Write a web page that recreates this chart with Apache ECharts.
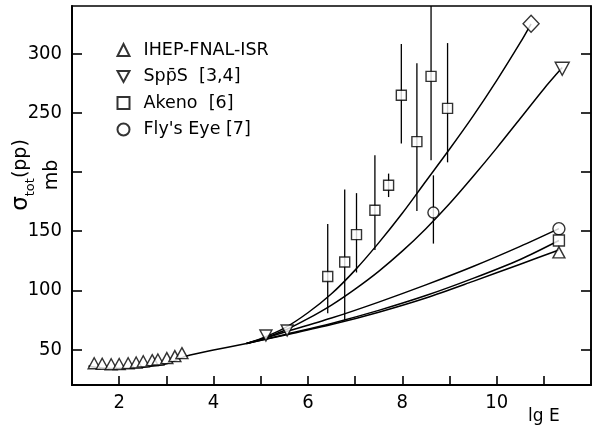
<!DOCTYPE html>
<html>
<head>
<meta charset="utf-8">
<script src="https://cdn.jsdelivr.net/npm/echarts@6/dist/echarts.min.js"></script>
<style>
  html, body { margin: 0; padding: 0; background: #fff; }
  #chart { width: 592px; height: 425px; }
</style>
</head>
<body>
<div id="chart"></div>
<script>
// Total pp cross section (mb) against lg E

// IHEP-FNAL-ISR accelerator points
const isrLgE   = [1.47, 1.64, 1.83, 2.0, 2.19, 2.36, 2.51, 2.70, 2.82, 3.01, 3.18, 3.33];
const isrSigma = [38.4, 37.9, 37.5, 37.7, 38.4, 39.0, 40.0, 41.0, 41.5, 42.7, 44.4, 46.9];

// SppS collider points
const sppsLgE   = [5.11, 5.56];
const sppsSigma = [61.8, 66.0];

// Akeno cosmic-ray points with error bars
const akenoLgE   = [6.42, 6.78, 7.03, 7.42, 7.71, 7.98, 8.31, 8.61, 8.96];
const akenoSigma = [111.6, 123.9, 147.0, 167.5, 188.6, 264.6, 225.5, 280.6, 253.6];
const akenoLo    = [80.5, 74.5, 115.0, 134.0, 178.7, 224.0, 167.0, 209.7, 208.0];
const akenoHi    = [156.0, 185.0, 182.0, 214.0, 198.5, 308.0, 291.6, 345.0, 308.7];

// Fly's Eye point with error bar
const flyLgE   = [8.66];
const flySigma = [165.6];
const flyLo    = [139.4];
const flyHi    = [197.0];

// Model curves: shared low-energy part, then five branches
const curveLow = [[1.35, 36], [1.6, 34.5], [1.85, 34], [2.2, 34.3], [2.6, 35.5], [3.0, 38], [3.43, 44.5], [4.0, 49.5], [4.7, 55]];
const curveDiamond = [[4.7, 55], [5.0, 59], [5.5, 68], [6.0, 81], [6.5, 97], [7.0, 117], [7.5, 140], [8.0, 165], [8.5, 192], [9.0, 219], [9.5, 247], [10.0, 277], [10.5, 309], [10.73, 325]];
const curveInvTri  = [[4.7, 55], [5.0, 58.5], [5.5, 66], [6.0, 76], [6.5, 87.5], [7.0, 101], [7.5, 116], [8.0, 133], [8.5, 152], [9.0, 173], [9.5, 196], [10.0, 220], [10.5, 245], [11.0, 270], [11.39, 288]];
const curveCircle  = [[4.7, 55], [5.5, 64.5], [6.5, 76.5], [7.5, 90], [8.5, 104.5], [9.5, 120], [10.5, 137], [11.32, 152]];
const curveSquare  = [[4.7, 55], [5.5, 62.5], [6.5, 72], [7.5, 83], [8.5, 95.5], [9.5, 110], [10.5, 126], [11.32, 142]];
const curveTri     = [[4.7, 55], [5.5, 62], [6.5, 71], [7.5, 81.5], [8.5, 93.5], [9.5, 107.5], [10.5, 122], [11.32, 134]];

// End-of-curve markers
const endDiamond = [10.73, 325];
const endInvTri  = [11.39, 287];
const endCircle  = [11.32, 152];
const endSquare  = [11.32, 142];
const endTri     = [11.32, 132];

// Axis ticks and labels
const xTicks  = [2, 3, 4, 5, 6, 7, 8, 9, 10, 11];
const xLabels = [2, 4, 6, 8, 10];
const yTicks  = [50, 100, 150, 200, 250, 300];
const yLabels = [50, 100, 150, 250, 300];

const names = ['IHEP-FNAL-ISR', 'Spp\u0304S  [3,4]', 'Akeno  [6]', "Fly's Eye [7]"];

const INK = '#000';
const tickFont = '"Liberation Sans Narrow", "DejaVu Sans Condensed", "Liberation Sans", sans-serif';
const textFont = '"DejaVu Sans", "Liberation Sans", sans-serif';
const invTriPath = 'path://M0,0 L12,0 L6,11 Z';

const hollow = { color: '#fff', borderColor: INK, borderWidth: 1.4 };

function curve(data) {
  return {
    type: 'line', data: data, smooth: 0.3, showSymbol: false, symbol: 'none',
    lineStyle: { color: INK, width: 1.5 }, silent: true, z: 2
  };
}

function errorBars(xs, lo, hi) {
  return {
    type: 'custom',
    data: xs.map((x, i) => [x, lo[i], hi[i]]),
    encode: { x: 0, y: [1, 2] },
    clip: true, silent: true, z: 3,
    renderItem: function (params, api) {
      const a = api.coord([api.value(0), api.value(1)]);
      const b = api.coord([api.value(0), api.value(2)]);
      return {
        type: 'line',
        shape: { x1: a[0], y1: a[1], x2: b[0], y2: b[1] },
        style: { stroke: INK, lineWidth: 1.3 }
      };
    }
  };
}

function marker(point, symbol, size) {
  return {
    type: 'scatter', data: [point], symbol: symbol, symbolSize: size,
    itemStyle: hollow, silent: true, z: 5
  };
}

const chart = echarts.init(document.getElementById('chart'), null, { renderer: 'canvas' });

chart.setOption({
  animation: false,
  backgroundColor: '#fff',
  grid: {
    left: 72, right: 1, top: 6, bottom: 40,
    show: true, borderColor: INK, borderWidth: 1.6, backgroundColor: 'transparent'
  },
  legend: {
    orient: 'vertical', left: 111.5, top: 36,
    itemWidth: 12, itemHeight: 12, itemGap: 8.5,
    data: [
      { name: names[0], icon: 'triangle' },
      { name: names[1], icon: invTriPath },
      { name: names[2], icon: 'rect' },
      { name: names[3], icon: 'circle' }
    ],
    textStyle: { color: INK, fontSize: 17.5, fontFamily: textFont, lineHeight: 18, padding: [0, 0, 0, 9] },
    selectedMode: false
  },
  xAxis: {
    type: 'value', min: 1, max: 12,
    axisLine: { show: true, onZero: false, lineStyle: { color: INK, width: 2 } },
    axisTick: { show: true, inside: true, length: 9, customValues: xTicks, lineStyle: { color: INK, width: 1.6 } },
    axisLabel: { customValues: xLabels, color: INK, fontSize: 20, fontFamily: tickFont, margin: 8 },
    splitLine: { show: false }
  },
  yAxis: [
    {
      type: 'value', min: 20, max: 340,
      axisLine: { show: true, onZero: false, lineStyle: { color: INK, width: 2 } },
      axisTick: { show: true, inside: true, length: 10, customValues: yTicks, lineStyle: { color: INK, width: 1.6 } },
      axisLabel: { customValues: yLabels, color: INK, fontSize: 20, fontFamily: tickFont, margin: 10 },
      splitLine: { show: false }
    },
    {
      type: 'value', min: 20, max: 340, position: 'right',
      axisLine: { show: true, onZero: false, lineStyle: { color: INK, width: 1.6 } },
      axisTick: { show: true, inside: true, length: 10, customValues: yTicks, lineStyle: { color: INK, width: 1.6 } },
      axisLabel: { show: false },
      splitLine: { show: false }
    }
  ],
  graphic: [
    {
      type: 'text', x: 37, y: 175, rotation: Math.PI / 2, silent: true,
      style: {
        text: '{s|\u03c3}{sub|tot}{n|(pp)}\n{n|mb}',
        align: 'center', verticalAlign: 'middle', fill: INK,
        rich: {
          s: { fontSize: 23, fontFamily: textFont, fill: INK, lineHeight: 31 },
          sub: { fontSize: 13, fontFamily: textFont, fill: INK, verticalAlign: 'bottom', padding: [8, 0, 0, 0], lineHeight: 31 },
          n: { fontSize: 19, fontFamily: textFont, fill: INK, lineHeight: 31 }
        }
      }
    },
    {
      type: 'text', left: 528, top: 408, silent: true,
      style: { text: 'lg E', fontSize: 17, fontFamily: textFont, fill: INK }
    }
  ],
  series: [
    curve(curveLow),
    curve(curveDiamond),
    curve(curveInvTri),
    curve(curveCircle),
    curve(curveSquare),
    curve(curveTri),
    errorBars(akenoLgE, akenoLo, akenoHi),
    errorBars(flyLgE, flyLo, flyHi),
    {
      name: names[0], type: 'scatter', symbol: 'triangle', symbolSize: [12, 11],
      data: isrLgE.map((x, i) => [x, isrSigma[i]]), itemStyle: hollow, z: 5
    },
    {
      name: names[1], type: 'scatter', symbol: invTriPath, symbolSize: [12, 11],
      data: sppsLgE.map((x, i) => [x, sppsSigma[i]]), itemStyle: hollow, z: 5
    },
    {
      name: names[2], type: 'scatter', symbol: 'rect', symbolSize: 10,
      data: akenoLgE.map((x, i) => [x, akenoSigma[i]]), itemStyle: hollow, z: 5
    },
    {
      name: names[3], type: 'scatter', symbol: 'circle', symbolSize: 11,
      data: flyLgE.map((x, i) => [x, flySigma[i]]), itemStyle: hollow, z: 5
    },
    marker(endDiamond, 'diamond', [16, 17]),
    marker(endInvTri, invTriPath, [14, 13]),
    marker(endCircle, 'circle', 12),
    marker(endSquare, 'rect', 11),
    marker(endTri, 'triangle', [12, 11])
  ]
});
</script>
</body>
</html>
